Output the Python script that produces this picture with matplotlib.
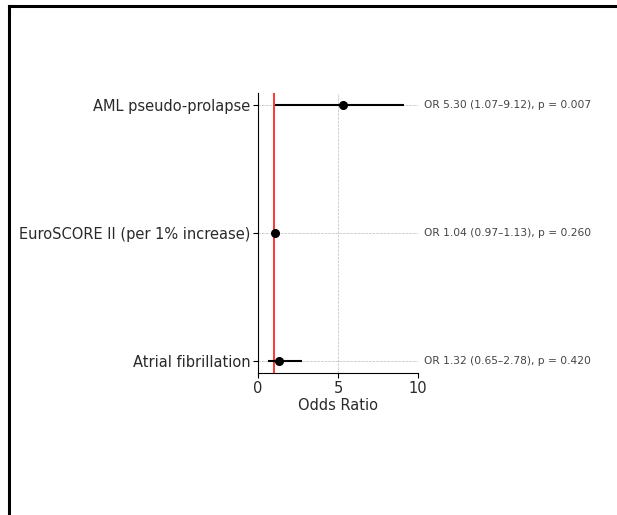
"""Forest plot of odds ratios from a multivariable model."""

import matplotlib
matplotlib.use("Agg")
import matplotlib.pyplot as plt
from matplotlib.lines import Line2D

# bottom to top
variables = ["Atrial fibrillation", "EuroSCORE II (per 1% increase)", "AML pseudo-prolapse"]
odds_ratios = [1.32, 1.04, 5.30]
ci_lower = [0.65, 0.97, 1.07]
ci_upper = [2.78, 1.13, 9.12]
p_values = [0.420, 0.260, 0.007]
x_ticks = [0, 5, 10]

fig = plt.figure(figsize=(6.17, 5.15), dpi=100)
ax = fig.add_axes([0.418, 0.2757, 0.2595, 0.5437])

y_pos = list(range(len(variables)))
for y, orv, lo, hi in zip(y_pos, odds_ratios, ci_lower, ci_upper):
    ax.plot([lo, hi], [y, y], color="black", lw=1.5, solid_capstyle="butt", zorder=3)
    ax.plot(orv, y, "o", color="black", markersize=5.5, zorder=4)

ax.axvline(1, color="red", lw=1.1, zorder=2)

for y, orv, lo, hi, p in zip(y_pos, odds_ratios, ci_lower, ci_upper, p_values):
    ax.text(10.4, y, f"OR {orv:.2f} ({lo:.2f}\u2013{hi:.2f}), p = {p:.3f}",
            va="center", ha="left", fontsize=7.7, color="#444444")

ax.set_yticks(y_pos)
ax.set_yticklabels(variables, fontsize=10.5, color="#2a2a2a")
ax.set_xticks(x_ticks)
ax.set_xticklabels([str(t) for t in x_ticks], fontsize=10.5, color="#2a2a2a")
ax.set_xlim(0, 10)
ax.set_ylim(-0.094, 2.094)
ax.set_xlabel("Odds Ratio", fontsize=10.5, color="#2a2a2a", labelpad=2)
ax.grid(True, linestyle="--", linewidth=0.5, color="#bbbbbb", zorder=0)
ax.set_axisbelow(True)
for side in ("top", "right"):
    ax.spines[side].set_visible(False)
ax.tick_params(axis="both", length=3.5, width=0.8, pad=2)

# screenshot frame around the figure
fig.add_artist(Line2D([9 / 617, 1], [1 - 6 / 515, 1 - 6 / 515], transform=fig.transFigure,
                      color="black", lw=2.2, solid_capstyle="projecting"))
fig.add_artist(Line2D([9 / 617, 9 / 617], [0, 1 - 6 / 515], transform=fig.transFigure,
                      color="black", lw=2.2, solid_capstyle="projecting"))

fig.savefig("out.png", dpi=100)
plt.close(fig)
